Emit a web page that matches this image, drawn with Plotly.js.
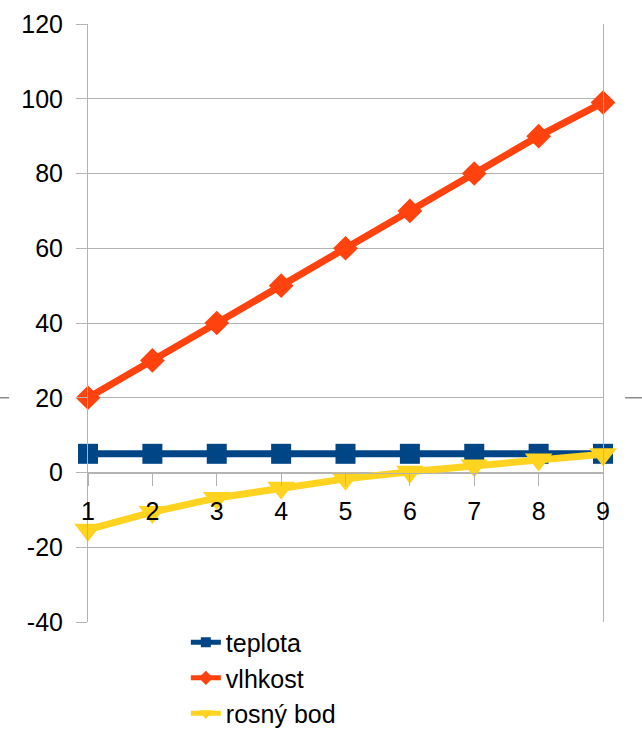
<!DOCTYPE html>
<html>
<head>
<meta charset="utf-8">
<script src="https://cdn.plot.ly/plotly-3.0.1.min.js"></script>
<style>
  html, body { margin: 0; padding: 0; background: #ffffff; }
  #chart { width: 642px; height: 731px; }
</style>
</head>
<body>
<div id="chart"></div>
<script>
// Měření: teplota, relativní vlhkost a rosný bod
const categories = [1, 2, 3, 4, 5, 6, 7, 8, 9];
const teplota = [5, 5, 5, 5, 5, 5, 5, 5, 5];
const vlhkost = [20, 30, 40, 50, 60, 70, 80, 90, 99];
const rosnyBod = [-15.3, -10.6, -6.8, -4.1, -1.7, 0.2, 1.9, 3.5, 4.9];
const yTicks = [-40, -20, 0, 20, 40, 60, 80, 100, 120];
const yTickText = ['-40', '-20', '0', '20', '40', '60', '80', '100', '120'];

const FONT = 'Liberation Sans, Arial, sans-serif';
const GRID = '#b3b3b3';

const series = [
  { name: 'teplota', y: teplota, color: '#004586', symbol: 'square', size: 20, legSize: 10 },
  { name: 'vlhkost', y: vlhkost, color: '#ff420e', symbol: 'diamond', size: 19, legSize: 11 },
  { name: 'rosný bod', y: rosnyBod, color: '#ffd320', symbol: 'triangle-down', size: 24, legSize: 12 }
];

// data lines (legend entries are drawn by slimmer proxy traces below)
const traces = series.map(s => ({
  name: s.name, x: categories, y: s.y, type: 'scatter', mode: 'lines+markers',
  showlegend: false, cliponaxis: false,
  line: { color: s.color, width: 7 },
  marker: { symbol: s.symbol, size: s.size, color: s.color }
}));
series.forEach(s => traces.push({
  name: s.name, x: [null], y: [null], type: 'scatter', mode: 'lines+markers',
  showlegend: true,
  line: { color: s.color, width: 5 },
  marker: { symbol: s.symbol, size: s.legSize, color: s.color }
}));

const layout = {
  width: 642, height: 731,
  margin: { l: 88, r: 39, t: 24, b: 109, autoexpand: false },
  paper_bgcolor: '#ffffff', plot_bgcolor: '#ffffff',
  font: { family: FONT, size: 25, color: '#000000' },
  showlegend: true,
  legend: {
    x: 0.19, xanchor: 'left', y: 0.004, yanchor: 'top',
    font: { family: FONT, size: 25, color: '#000000' },
    tracegroupgap: 0, itemwidth: 30, bgcolor: 'rgba(0,0,0,0)'
  },
  xaxis: {
    type: 'linear', range: [1, 9], tickvals: categories, ticktext: categories.map(String),
    anchor: 'free', position: 0.25,
    showline: true, linecolor: GRID, linewidth: 1,
    ticks: 'outside', ticklen: 12, tickcolor: GRID, tickwidth: 1,
    ticklabelstandoff: 4,
    showgrid: false, zeroline: false,
    tickfont: { family: FONT, size: 25, color: '#000000' }
  },
  yaxis: {
    range: [-40, 120], tickvals: yTicks, ticktext: yTickText,
    showline: true, linecolor: GRID, linewidth: 1, mirror: true,
    ticks: 'outside', ticklen: 11, tickcolor: GRID, tickwidth: 1,
    ticklabelstandoff: 8,
    showgrid: true, gridcolor: GRID, gridwidth: 1, zeroline: false,
    tickfont: { family: FONT, size: 25, color: '#000000' }
  },
  shapes: [
    { type: 'line', xref: 'paper', yref: 'y', x0: -0.171, x1: -0.153, y0: 20, y1: 20,
      line: { color: '#8c8c8c', width: 1.5 } },
    { type: 'line', xref: 'paper', yref: 'y', x0: 1.043, x1: 1.08, y0: 20, y1: 20,
      line: { color: '#8c8c8c', width: 1.5 } }
  ]
};

Plotly.newPlot('chart', traces, layout, { displayModeBar: false, staticPlot: true });
</script>
</body>
</html>
